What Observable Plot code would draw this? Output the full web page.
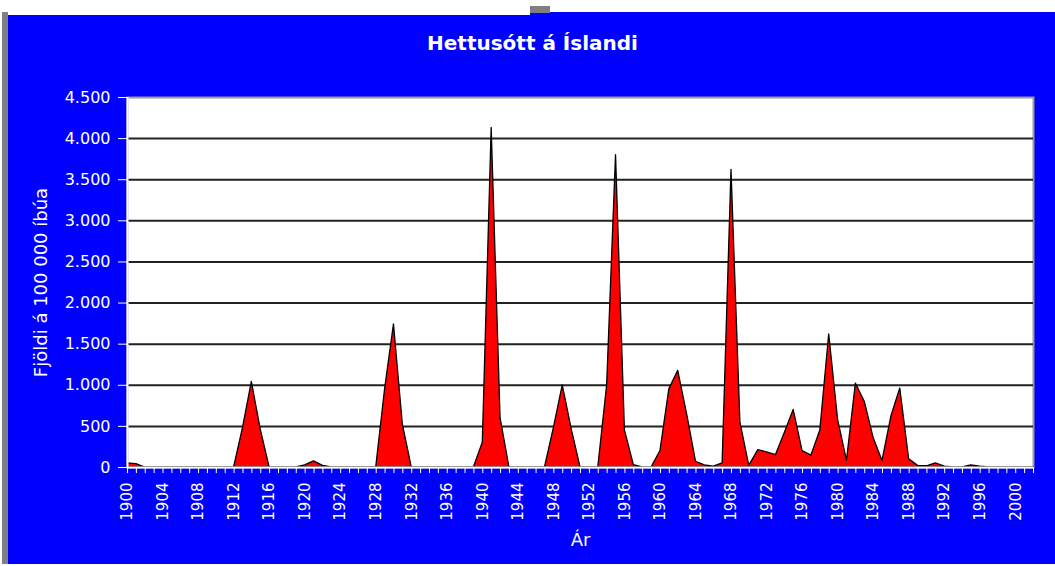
<!DOCTYPE html>
<html><head><meta charset="utf-8">
<script src="https://cdn.jsdelivr.net/npm/d3@7"></script>
<script src="https://cdn.jsdelivr.net/npm/@observablehq/plot@0.6"></script>
<style>
html,body{margin:0;padding:0;background:#fff;width:1055px;height:566px;overflow:hidden;position:relative}
#chart{position:absolute;left:8px;top:12px;width:1047px;height:552px;background:#0000ff}
#topbox{position:absolute;left:8px;top:0;width:522px;height:15px;background:#fff;z-index:2}
#topgrey{position:absolute;left:530px;top:6px;width:20px;height:7px;background:#808080;z-index:1}
#leftbar{position:absolute;left:2px;top:12px;width:6px;height:552px;background:#808080}
#chart svg{display:block}
</style></head><body>
<div id="leftbar"></div><div id="topgrey"></div><div id="chart"></div><div id="topbox"></div>
<script>
const title = "Hettusótt á Íslandi";
const yLabel = "Fjöldi á 100 000 íbúa";
const xLabel = "Ár";
const firstYear = 1900, lastYear = 2002;
// cases per 100 000 inhabitants, one value per year 1900..2002
const cases = [
  50, 40, 0, 0, 0, 0, 0, 0, 0, 0,          // 1900-1909
  0, 0, 0, 480, 1040, 460, 0, 0, 0, 0,     // 1910-1919
  25, 75, 20, 0, 0, 0, 0, 0, 0, 950,       // 1920-1929
  1740, 520, 0, 0, 0, 0, 0, 0, 0, 0,       // 1930-1939
  300, 4130, 600, 0, 0, 0, 0, 0, 480, 1000, // 1940-1949
  470, 0, 0, 0, 1000, 3800, 450, 30, 0, 0, // 1950-1959
  200, 950, 1175, 650, 70, 25, 10, 50, 3620, 550, // 1960-1969
  20, 210, 185, 150, 420, 700, 200, 145, 450, 1620, // 1970-1979
  580, 80, 1020, 800, 360, 80, 620, 960, 100, 20, // 1980-1989
  15, 50, 10, 0, 0, 25, 10, 0, 0, 0,       // 1990-1999
  0, 0, 0                                  // 2000-2002
];
const xTickYears = [1900,1904,1908,1912,1916,1920,1924,1928,1932,1936,1940,1944,1948,1952,1956,1960,1964,1968,1972,1976,1980,1984,1988,1992,1996,2000];
const yTicks = [0,500,1000,1500,2000,2500,3000,3500,4000,4500];
const gridValues = [500,1000,1500,2000,2500,3000,3500,4000];

const years = d3.range(firstYear, lastYear + 1);
const data = years.map((y, i) => ({year: y, value: cases[i]}));
const fmt = d3.formatLocale({decimal: ",", thousands: ".", grouping: [3], currency: ["", ""]}).format(",d");

const chart = Plot.plot({
  width: 1047, height: 552,
  marginLeft: 119, marginRight: 22, marginTop: 85, marginBottom: 97,
  style: {background: "#0000ff", color: "white", fontFamily: "'DejaVu Sans', sans-serif", fontSize: "15px", overflow: "visible"},
  x: {domain: [firstYear, lastYear], axis: null},
  y: {domain: [0, 4500], axis: null},
  marks: [
    Plot.frame({fill: "white", stroke: "#9a9a9a", strokeWidth: 2}),
    Plot.ruleY(gridValues, {stroke: "#222", strokeWidth: 2}),
    Plot.areaY(data, {x: "year", y: "value", fill: "#ff0000", stroke: "#000", strokeWidth: 1.3, curve: "linear"}),
    Plot.ruleY([0], {stroke: "white", strokeWidth: 2}),
    Plot.ruleX([firstYear], {stroke: "white", strokeWidth: 2}),
    Plot.axisY(yTicks, {tickFormat: fmt, tickSize: 9, tickPadding: 8, stroke: "white", fill: "white", fontSize: 16, label: null}),
    Plot.axisX(years, {tickFormat: () => "", tickSize: 6, stroke: "white", label: null}),
    Plot.axisX(xTickYears, {tickFormat: d => String(d), tickSize: 0, tickPadding: 15, tickRotate: -90, fill: "white", fontSize: 15, label: null}),
    Plot.text([title], {text: d => d, frameAnchor: "top", dx: -48, dy: -54, textAnchor: "middle", lineAnchor: "middle", fill: "white", fontSize: 20, fontWeight: "bold"}),
    Plot.text([yLabel], {text: d => d, frameAnchor: "left", dx: -86, rotate: -90, textAnchor: "middle", lineAnchor: "middle", fill: "white", fontSize: 18}),
    Plot.text([xLabel], {text: d => d, frameAnchor: "bottom", dy: 73, textAnchor: "middle", lineAnchor: "middle", fill: "white", fontSize: 18})
  ]
});
document.getElementById("chart").appendChild(chart);
</script>
</body></html>
